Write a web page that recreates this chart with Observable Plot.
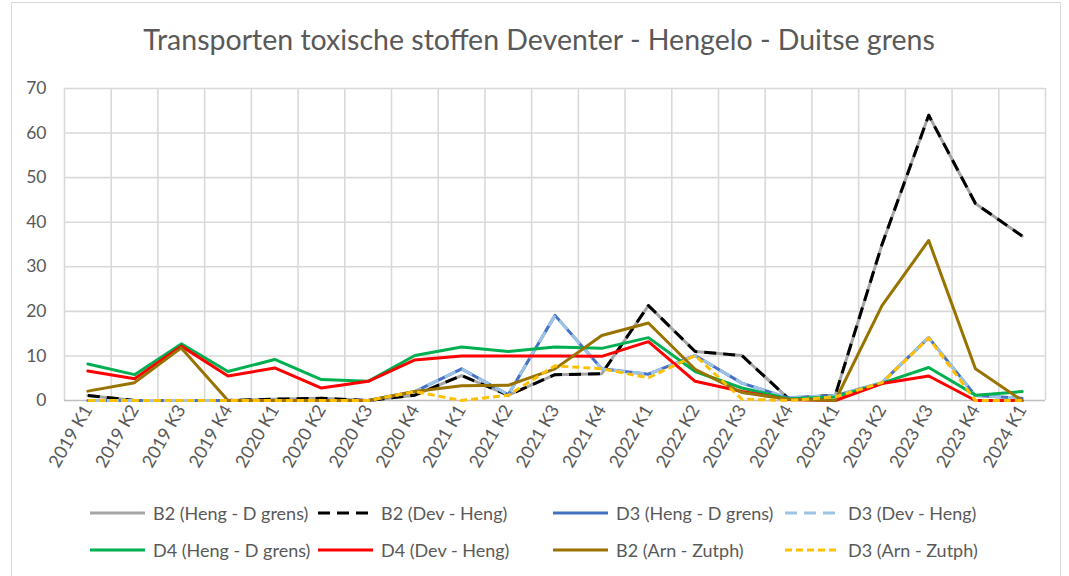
<!DOCTYPE html>
<html>
<head>
<meta charset="utf-8">
<script src="https://cdn.jsdelivr.net/npm/d3@7"></script>
<script src="https://cdn.jsdelivr.net/npm/@observablehq/plot@0.6"></script>
<style>
  html, body { margin: 0; padding: 0; background: #ffffff; }
  body { width: 1069px; height: 576px; position: relative; overflow: hidden; font-family: Lato, "Open Sans", sans-serif; }
  #frame { position: absolute; left: 11px; top: 2px; width: 1050px; height: 600px; border: 1px solid #d9d9d9; box-sizing: border-box; }
  #title { position: absolute; left: 0; top: 22px; width: 1078px; text-align: center; font-size: 28.5px; color: #595959; white-space: nowrap; }
  #chart { position: absolute; left: 0; top: 0; }
  .leg { position: absolute; display: flex; align-items: center; font-size: 18px; color: #595959; white-space: nowrap; }
  .leg svg { margin-right: 8px; }
</style>
</head>
<body>
<div id="frame"></div>
<div id="chart"></div>
<div id="title">Transporten toxische stoffen Deventer - Hengelo - Duitse grens</div>
<div id="legend"></div>
<script>
const categories = ["2019 K1","2019 K2","2019 K3","2019 K4","2020 K1","2020 K2","2020 K3","2020 K4","2021 K1","2021 K2","2021 K3","2021 K4","2022 K1","2022 K2","2022 K3","2022 K4","2023 K1","2023 K2","2023 K3","2023 K4","2024 K1"];

const b2HengDgrens = [1.1, 0, 0, 0, 0.3, 0.5, 0, 1.2, 5.6, 1.2, 5.8, 6.0, 21.3, 11.0, 10.1, 0.4, 1.2, 35, 64, 44.2, 36.9];
const b2DevHeng    = [1.1, 0, 0, 0, 0.3, 0.5, 0, 1.2, 5.6, 1.2, 5.8, 6.0, 21.3, 11.0, 10.1, 0.4, 1.2, 35, 64, 44.2, 36.9];
const d3HengDgrens = [0, 0, 0, 0, 0, 0, 0, 2.0, 7.1, 1.3, 19.1, 7.1, 5.9, 10.1, 3.9, 0.6, 1.1, 4.0, 14.1, 1.1, 0.5];
const d3DevHeng    = [0, 0, 0, 0, 0, 0, 0, 2.0, 7.1, 1.3, 19.1, 7.1, 5.9, 10.1, 3.9, 0.6, 1.1, 4.0, 14.1, 1.1, 0.5];
const d4HengDgrens = [8.2, 5.8, 12.7, 6.5, 9.2, 4.7, 4.3, 10.1, 12.0, 11.0, 12.0, 11.7, 14.1, 6.5, 2.8, 0.4, 0.8, 3.9, 7.4, 1.2, 2.0];
const d4DevHeng    = [6.6, 4.9, 12.2, 5.5, 7.3, 2.8, 4.3, 9.1, 10.0, 10.0, 10.0, 9.9, 13.2, 4.3, 2.0, 0.2, 0, 3.8, 5.5, 0, 0];
const b2ArnZutph   = [2.1, 4.0, 11.8, 0, 0, 0, 0, 2.0, 3.3, 3.4, 7.1, 14.6, 17.4, 7.0, 1.8, 0.3, 0, 21.3, 35.9, 7.1, 0];
const d3ArnZutph   = [0, 0, 0, 0, 0, 0, 0, 2.0, 0, 1.2, 7.8, 7.1, 5.1, 10.1, 0.3, 0, 0.8, 4.0, 14.0, 0, 0];

const yTicks = [0, 10, 20, 30, 40, 50, 60, 70];

const seriesNames = ["B2 (Heng - D grens)", "B2 (Dev - Heng)", "D3 (Heng - D grens)", "D3 (Dev - Heng)",
                     "D4 (Heng - D grens)", "D4 (Dev - Heng)", "B2 (Arn - Zutph)", "D3 (Arn - Zutph)"];
const seriesValues = [b2HengDgrens, b2DevHeng, d3HengDgrens, d3DevHeng, d4HengDgrens, d4DevHeng, b2ArnZutph, d3ArnZutph];
const seriesColors = ["#a5a5a5", "#000000", "#4472c4", "#9dc3e6", "#00b050", "#ff0000", "#997300", "#ffc000"];
const seriesDash   = [null, "12,7", null, "12,7", null, null, null, "7,4"];

const series = seriesNames.map((name, k) => ({
  name, color: seriesColors[k], dash: seriesDash[k],
  data: seriesValues[k].map((v, i) => ({i, v}))
}));

const idx = categories.map((c, i) => i);
const bounds = d3.range(-0.5, categories.length, 1);

const chart = Plot.plot({
  width: 1069,
  height: 490,
  marginLeft: 64,
  marginRight: 24,
  marginTop: 88,
  marginBottom: 90,
  style: { fontFamily: "Lato, 'Open Sans', sans-serif", fontSize: "17px", color: "#595959", background: "transparent" },
  x: { domain: [-0.5, categories.length - 0.5] },
  y: { domain: [0, 70] },
  marks: [
    Plot.gridY(yTicks.slice(1), { stroke: "#d9d9d9", strokeOpacity: 1, strokeWidth: 1.6 }),
    Plot.gridX(bounds, { stroke: "#d9d9d9", strokeOpacity: 1, strokeWidth: 1.6 }),
    Plot.ruleY([0], { stroke: "#bfbfbf", strokeWidth: 1.6 }),
    Plot.axisY(yTicks, { tickSize: 0, tickPadding: 18, label: null, fontSize: 17.5 }),
    Plot.axisX(idx, { tickSize: 0, tickPadding: 6, tickRotate: -60, label: null, fontSize: 18, tickFormat: i => categories[i] }),
    ...series.map(s => Plot.line(s.data, {
      x: "i", y: "v", stroke: s.color, strokeWidth: 3,
      strokeDasharray: s.dash, strokeLinejoin: "round", strokeLinecap: s.dash ? "butt" : "round"
    }))
  ]
});
document.getElementById("chart").appendChild(chart);

// legend
const legend = document.getElementById("legend");
const colLeft = [90, 318, 553, 785];
const rowTop = [513, 550];
series.forEach((s, k) => {
  const row = k < 4 ? 0 : 1;
  const col = k % 4;
  const div = document.createElement("div");
  div.className = "leg";
  div.style.left = colLeft[col] + "px";
  div.style.top = (rowTop[row] - 12) + "px";
  div.style.height = "24px";
  const ns = "http://www.w3.org/2000/svg";
  const svg = document.createElementNS(ns, "svg");
  svg.setAttribute("width", 55);
  svg.setAttribute("height", 6);
  const ln = document.createElementNS(ns, "line");
  ln.setAttribute("x1", 0); ln.setAttribute("x2", 55);
  ln.setAttribute("y1", 3); ln.setAttribute("y2", 3);
  ln.setAttribute("stroke", s.color);
  ln.setAttribute("stroke-width", 3);
  if (s.dash) ln.setAttribute("stroke-dasharray", s.dash);
  svg.appendChild(ln);
  div.appendChild(svg);
  const t = document.createElement("span");
  t.textContent = s.name;
  div.appendChild(t);
  legend.appendChild(div);
});
</script>
</body>
</html>
